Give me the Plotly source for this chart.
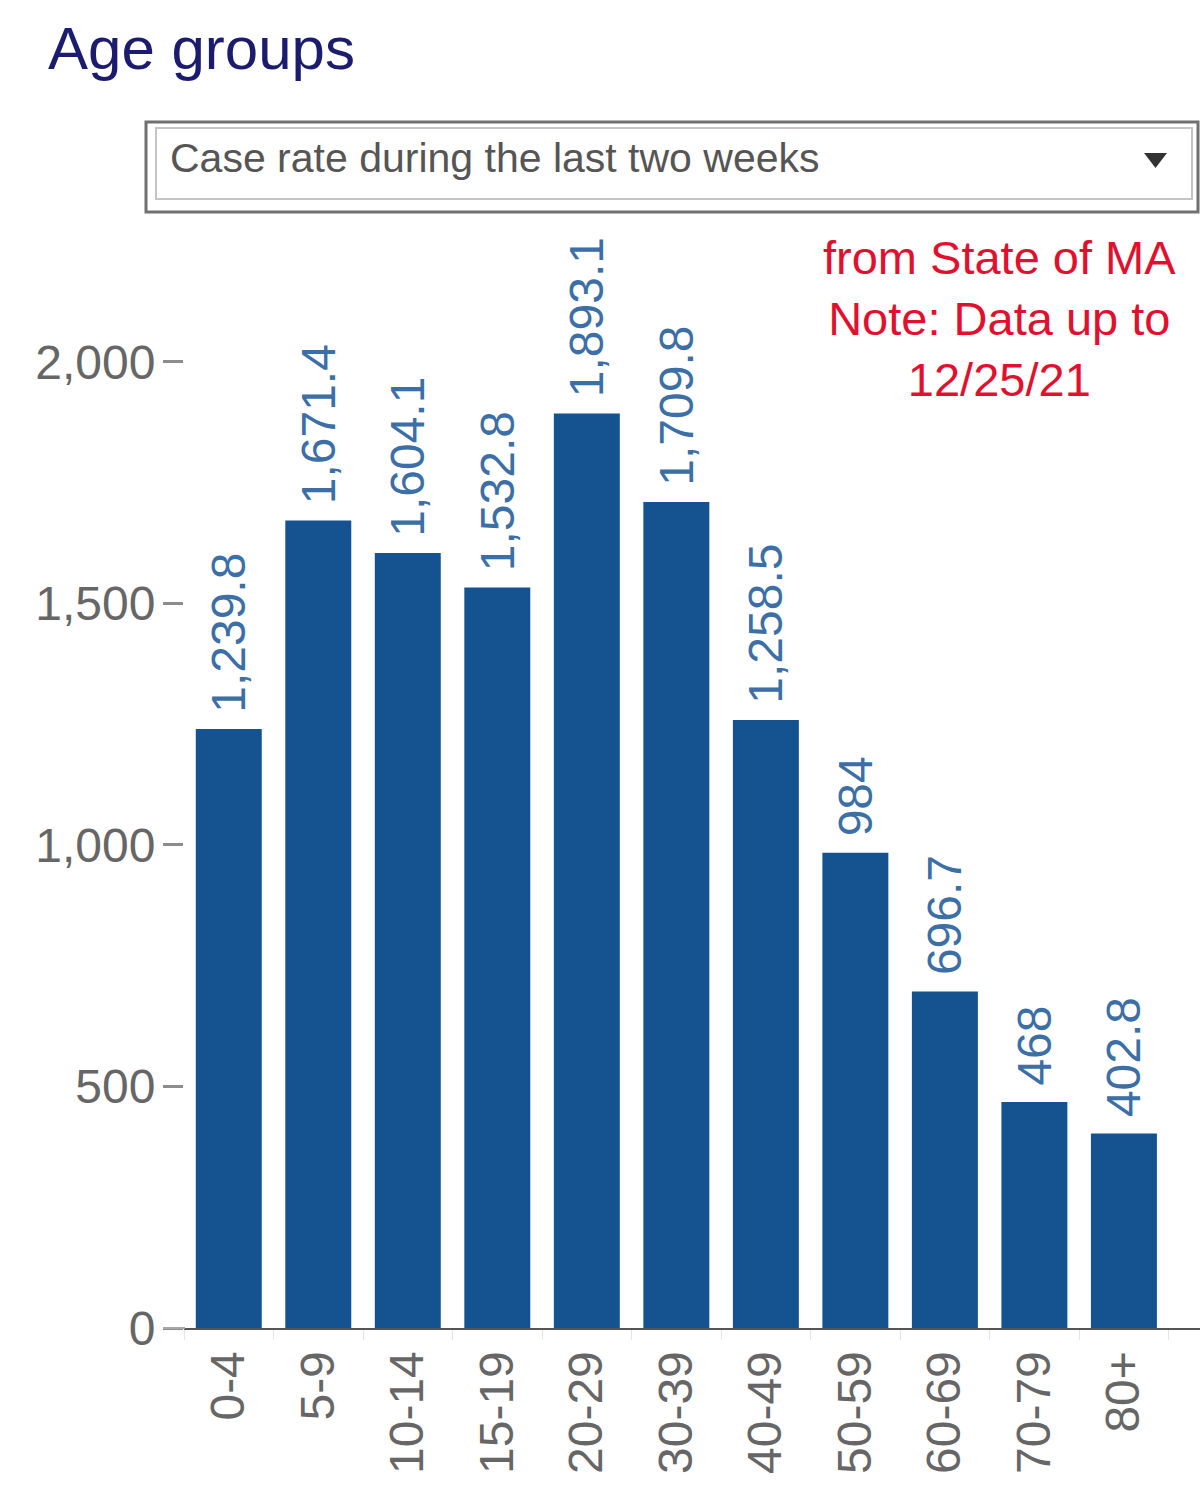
import plotly.graph_objects as go

# data
age_groups = ["0-4", "5-9", "10-14", "15-19", "20-29", "30-39",
              "40-49", "50-59", "60-69", "70-79", "80+"]
case_rate = [1239.8, 1671.4, 1604.1, 1532.8, 1893.1, 1709.8,
             1258.5, 984, 696.7, 468, 402.8]
y_ticks = [0, 500, 1000, 1500, 2000]
y_tick_text = ["0", "500", "1,000", "1,500", "2,000"]

W, H = 1200, 1505
FONT = "Arial, Liberation Sans, sans-serif"


def fx(px):
    return px / W


def fy(py):
    return 1 - py / H


labels = [f"{v:,.1f}".rstrip("0").rstrip(".") for v in case_rate]

fig = go.Figure()
fig.add_trace(go.Bar(
    x=age_groups,
    y=case_rate,
    text=labels,
    texttemplate=" %{text}",
    textposition="outside",
    textangle=-90,
    constraintext="none",
    cliponaxis=False,
    textfont=dict(family=FONT, size=48, color="#3c6fa6"),
    marker=dict(color="#14538f", line=dict(width=0)),
    hoverinfo="skip",
))

fig.update_layout(
    width=W,
    height=H,
    margin=dict(l=0, r=0, t=0, b=0, autoexpand=False),
    paper_bgcolor="white",
    plot_bgcolor="white",
    showlegend=False,
    bargap=0.263,
    font=dict(family=FONT, color="#666666"),
    xaxis=dict(
        domain=[fx(184), 1.0],
        range=[-0.5, 10.85],
        automargin=False,
        showgrid=False,
        zeroline=False,
        showline=True,
        linecolor="#555555",
        linewidth=2,
        ticks="outside",
        tickson="boundaries",
        ticklen=10,
        tickcolor="#e4e4e4",
        tickangle=-90,
        ticklabelstandoff=2,
        tickfont=dict(family=FONT, size=48, color="#666666"),
    ),
    yaxis=dict(
        domain=[fy(1328), fy(230)],
        range=[0, 2273],
        automargin=False,
        showgrid=False,
        zeroline=False,
        showline=False,
        tickvals=y_ticks,
        ticktext=y_tick_text,
        ticks="outside",
        ticklen=20,
        tickwidth=3,
        tickcolor="#8c8c8c",
        ticklabelstandoff=-2,
        tickfont=dict(family=FONT, size=48, color="#666666"),
    ),
)

# small extension of the baseline to the left of the plot area
fig.add_shape(type="line", xref="paper", yref="paper",
              x0=fx(163), x1=fx(185), y0=fy(1328), y1=fy(1328),
              line=dict(color="#a8a8a8", width=2))

# dropdown box (double border)
fig.add_shape(type="rect", xref="paper", yref="paper",
              x0=fx(146), x1=fx(1198), y0=fy(212), y1=fy(122),
              line=dict(color="#707070", width=3))
fig.add_shape(type="rect", xref="paper", yref="paper",
              x0=fx(156), x1=fx(1192), y0=fy(199), y1=fy(128),
              line=dict(color="#c4c4c4", width=2))
fig.add_shape(type="path", xref="paper", yref="paper",
              path=f"M {fx(1144)} {fy(153)} L {fx(1167)} {fy(153)} L {fx(1155.5)} {fy(168)} Z",
              fillcolor="#333333", line=dict(width=0))

fig.add_annotation(text="Age groups", xref="paper", yref="paper",
                   x=fx(46), y=fy(48), xanchor="left", yanchor="middle",
                   showarrow=False,
                   font=dict(family=FONT, size=60, color="#1c1c6e"))
fig.add_annotation(text="Case rate during the last two weeks",
                   xref="paper", yref="paper",
                   x=fx(168), y=fy(158), xanchor="left", yanchor="middle",
                   showarrow=False,
                   font=dict(family=FONT, size=41, color="#555555"))
fig.add_annotation(text="from State of MA<br>Note: Data up to<br>12/25/21",
                   xref="paper", yref="paper",
                   x=fx(999), y=fy(318), xanchor="center", yanchor="middle",
                   align="center", showarrow=False,
                   font=dict(family=FONT, size=47, color="#e2102f"))

fig.write_html("out.html", config={"displayModeBar": False},
               post_script="document.body.style.margin='0';")
